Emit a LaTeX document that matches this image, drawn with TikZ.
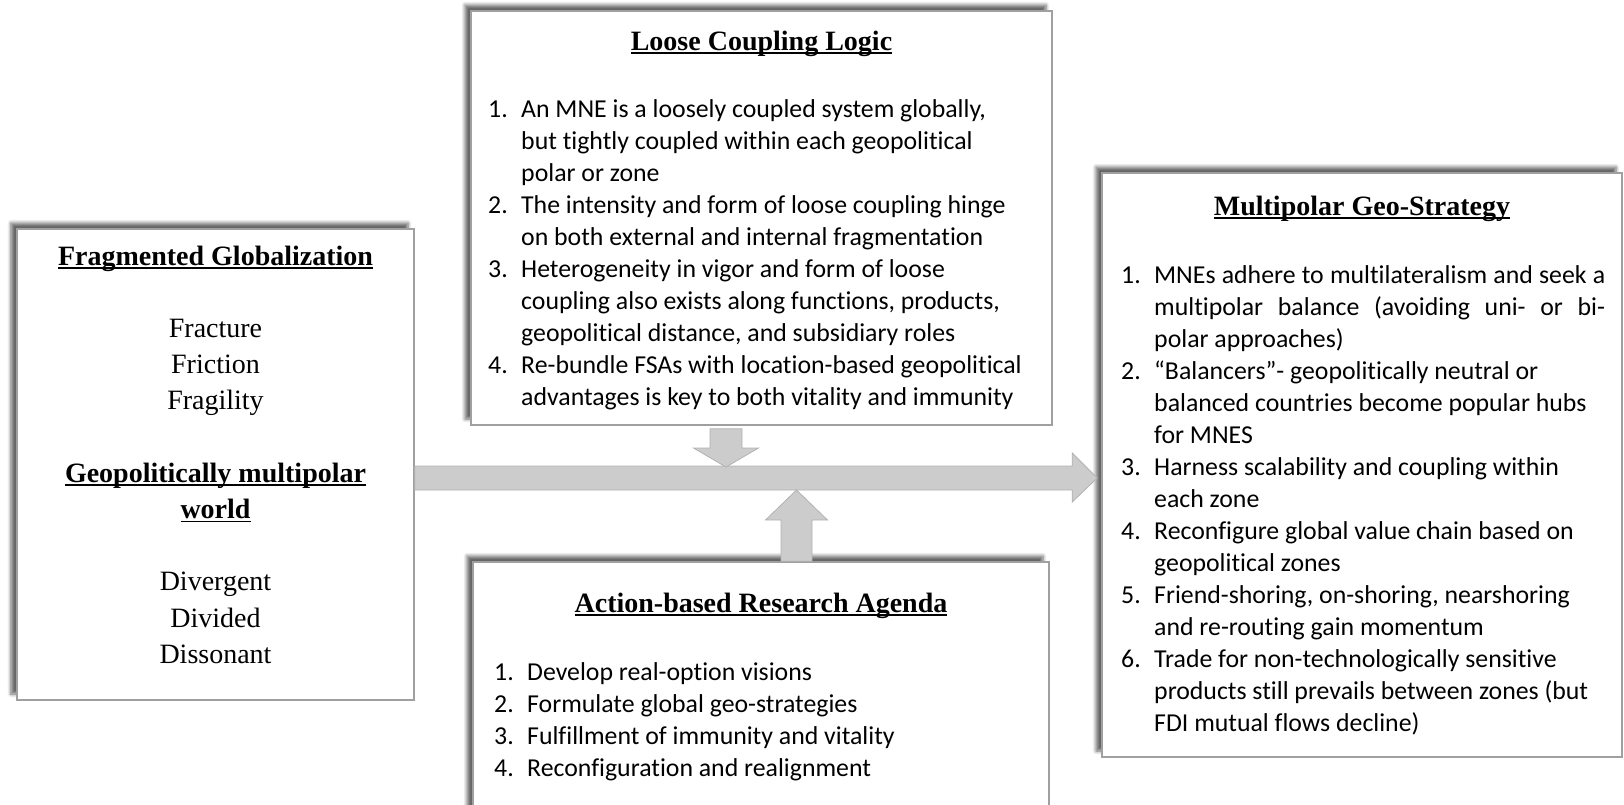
\documentclass[tikz,border=0pt]{standalone}
\usepackage{fontspec}
\setmainfont{Liberation Serif}
\newfontfamily\listfont[Ligatures=NoCommon]{Carlito}
\usetikzlibrary{calc, shadows.blur}

\definecolor{framegray}{RGB}{160,160,160}
\definecolor{arrowfill}{RGB}{204,204,204}
\definecolor{arrowedge}{RGB}{178,178,178}

\newcommand{\boxtitle}[1]{\setbox0=\hbox{\bfseries #1}\rlap{\rule[-4pt]{\wd0}{1.8pt}}\box0}

\begin{document}
\begin{tikzpicture}[x=1pt, y=-1pt,
  panel/.style={draw=framegray, line width=1.6pt, fill=white, inner sep=0pt,
    blur shadow={shadow xshift=-6pt, shadow yshift=6pt, shadow blur radius=3.5pt,
      shadow blur steps=6, shadow opacity=60}},
  heading/.style={anchor=base, inner sep=0pt, font=\fontsize{28}{34}\selectfont},
  items/.style={anchor=base west, inner sep=0pt, font=\listfont\fontsize{25.8}{32}\selectfont},
  block/.style={fill=arrowfill, draw=arrowedge, line width=0.8pt}]
  \useasboundingbox (0,0) rectangle (1624,804);
  \clip (0,0) rectangle (1624,804);

  % the four panels
  \node[panel, minimum width=397pt, minimum height=471pt] (frag) at (215.5,464.5) {};
  \node[panel, minimum width=581pt, minimum height=414pt] (loose) at (761.5,218) {};
  \node[panel, minimum width=576pt, minimum height=270pt] (action) at (761,697) {};
  \node[panel, minimum width=520pt, minimum height=584pt] (geo) at (1362,465) {};

  % left panel
  \node[anchor=base, inner sep=0pt, font=\fontsize{28}{36.2}\selectfont] (fragtext) at (215.5,265)
  {\begin{tabular}[t]{@{}c@{}}
    \boxtitle{Fragmented Globalization}\\ \\
    Fracture\\ Friction\\ Fragility\\ \\
    \boxtitle{Geopolitically multipolar}\\ \boxtitle{world}\\ \\
    Divergent\\ Divided\\ Dissonant
  \end{tabular}};

  % top panel
  \node[heading] (loosetitle) at (761.5,50) {\boxtitle{Loose Coupling Logic}};
  \node[items] (looselist) at (488,117)
  {\begin{tabular}[t]{@{}p{33pt}@{}l@{}}
    1. & An MNE is a loosely coupled system globally,\\
       & but tightly coupled within each geopolitical\\
       & polar or zone\\
    2. & The intensity and form of loose coupling hinge\\
       & on both external and internal fragmentation\\
    3. & Heterogeneity in vigor and form of loose\\
       & coupling also exists along functions, products,\\
       & geopolitical distance, and subsidiary roles\\
    4. & Re-bundle FSAs with location-based geopolitical\\
       & advantages is key to both vitality and immunity
  \end{tabular}};

  % bottom panel
  \node[heading] (actiontitle) at (761,612) {\boxtitle{Action-based Research Agenda}};
  \node[items] (actionlist) at (494,680)
  {\begin{tabular}[t]{@{}p{33pt}@{}l@{}}
    1. & Develop real-option visions\\
    2. & Formulate global geo-strategies\\
    3. & Fulfillment of immunity and vitality\\
    4. & Reconfiguration and realignment
  \end{tabular}};

  % right panel
  \node[heading] (geotitle) at (1362,215) {\boxtitle{Multipolar Geo-Strategy}};
  \node[items] (geolist) at (1121,283)
  {\begin{tabular}[t]{@{}p{33pt}@{}l@{}}
    1. & \makebox[451pt][s]{MNEs adhere to multilateralism and seek a}\\
       & \makebox[451pt][s]{multipolar balance (avoiding uni- or bi-}\\
       & polar approaches)\\
    2. & “Balancers”- geopolitically neutral or\\
       & balanced countries become popular hubs\\
       & for MNES\\
    3. & Harness scalability and coupling within\\
       & each zone\\
    4. & Reconfigure global value chain based on\\
       & geopolitical zones\\
    5. & Friend-shoring, on-shoring, nearshoring\\
       & and re-routing gain momentum\\
    6. & Trade for non-technologically sensitive\\
       & products still prevails between zones (but\\
       & FDI mutual flows decline)
  \end{tabular}};

  % block arrows
  \coordinate (axis) at (0,478);
  \coordinate (mainS) at (frag.east |- axis);
  \coordinate (mainE) at ($(geo.west |- axis)+(-4,0)$);
  \draw[block] ($(mainS)+(0,-12)$) -- ($(mainE)+(-25,-12)$) -- ($(mainE)+(-25,-25)$)
    -- (mainE) -- ($(mainE)+(-25,24)$) -- ($(mainE)+(-25,12)$) -- ($(mainS)+(0,12)$) -- cycle;

  \coordinate (dnx) at (726,0);
  \coordinate (dnS) at ($(loose.south -| dnx)+(0,3)$);
  \coordinate (dnE) at ($(dnx |- axis)+(0,-11)$);
  \draw[block] ($(dnS)+(-16,0)$) -- ($(dnS)+(16,0)$) -- ($(dnE)+(16,-19)$) -- ($(dnE)+(32.5,-19)$)
    -- (dnE) -- ($(dnE)+(-32.5,-19)$) -- ($(dnE)+(-16,-19)$) -- cycle;

  \coordinate (upx) at (796.5,0);
  \coordinate (upS) at (action.north -| upx);
  \coordinate (upE) at ($(upx |- axis)+(0,12)$);
  \draw[block] ($(upS)+(-15.5,0)$) -- ($(upE)+(-15.5,30)$) -- ($(upE)+(-31,30)$)
    -- (upE) -- ($(upE)+(31,30)$) -- ($(upE)+(15.5,30)$) -- ($(upS)+(15.5,0)$) -- cycle;
\end{tikzpicture}
\end{document}
